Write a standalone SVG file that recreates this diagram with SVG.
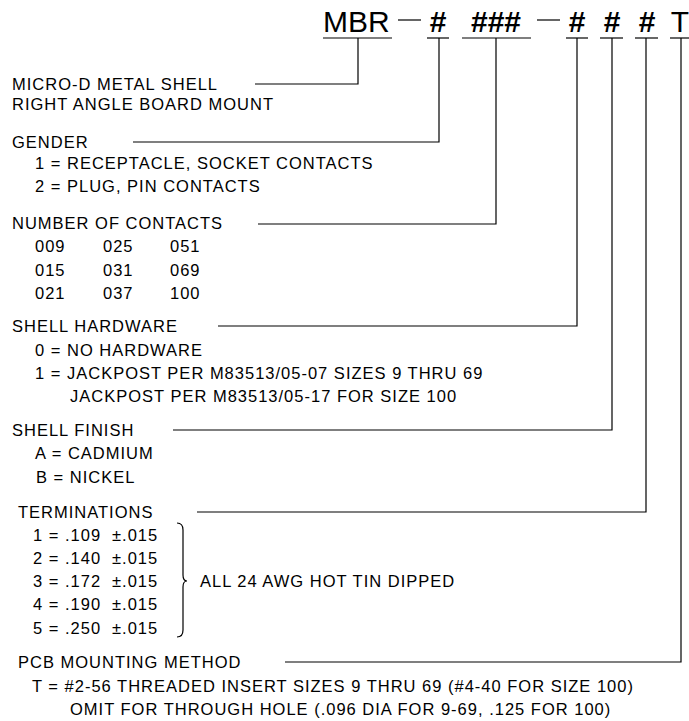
<svg xmlns="http://www.w3.org/2000/svg" width="689" height="721" viewBox="0 0 689 721">
<style>
text{font-family:"Liberation Sans",Arial,sans-serif;fill:#000}
.t{font-size:16.5px;letter-spacing:1px}
.h{font-size:30px}
.b{font-weight:bold}
.ln{stroke:#000;stroke-width:1.2;fill:none}
</style>
<rect width="689" height="721" fill="#fff"/>
<g id="header">
<text class="h" x="323" y="32">MBR</text>
<text class="h b" x="438" y="32" text-anchor="middle">#</text>
<text class="h b" x="496" y="32" text-anchor="middle">###</text>
<text class="h b" x="577" y="32" text-anchor="middle">#</text>
<text class="h b" x="612" y="32" text-anchor="middle">#</text>
<text class="h b" x="647" y="32" text-anchor="middle">#</text>
<text class="h" x="680" y="32" text-anchor="middle">T</text>
<g class="ln">
<line x1="323" y1="38" x2="392" y2="38"/>
<line x1="398" y1="20" x2="421" y2="20"/>
<line x1="427" y1="38" x2="449" y2="38"/>
<line x1="462" y1="38" x2="531" y2="38"/>
<line x1="537" y1="20" x2="560" y2="20"/>
<line x1="566" y1="38" x2="588" y2="38"/>
<line x1="600" y1="38" x2="623" y2="38"/>
<line x1="635" y1="38" x2="658" y2="38"/>
<line x1="670" y1="38" x2="689" y2="38"/>
</g>
</g>
<g id="connectors" class="ln">
<polyline points="358,38 358,84 255,84"/>
<polyline points="439,38 439,142 133,142"/>
<polyline points="496,38 496,224 258,224"/>
<polyline points="577,38 577,326 218,326"/>
<polyline points="612,38 612,430 173,430"/>
<polyline points="646,38 646,512 197,512"/>
<polyline points="681,38 681,662 285,662"/>
<path d="M177,523 Q183,523 183,530 L183,575 Q183,581 187,581 Q183,581 183,587 L183,630 Q183,637 177,637"/>
</g>
<g id="node-shell">
<text class="t" x="12" y="90">MICRO-D METAL SHELL</text>
<text class="t" x="12" y="110">RIGHT ANGLE BOARD MOUNT</text>
</g>
<g id="node-gender">
<text class="t" x="12" y="148">GENDER</text>
<text class="t" x="35" y="169">1 = RECEPTACLE, SOCKET CONTACTS</text>
<text class="t" x="35" y="192">2 = PLUG, PIN CONTACTS</text>
</g>
<g id="node-contacts">
<text class="t" x="12" y="229">NUMBER OF CONTACTS</text>
<text class="t" x="35" y="252">009</text><text class="t" x="103" y="252">025</text><text class="t" x="170" y="252">051</text>
<text class="t" x="35" y="276">015</text><text class="t" x="103" y="276">031</text><text class="t" x="170" y="276">069</text>
<text class="t" x="35" y="299">021</text><text class="t" x="103" y="299">037</text><text class="t" x="170" y="299">100</text>
</g>
<g id="node-hardware">
<text class="t" x="12" y="332">SHELL HARDWARE</text>
<text class="t" x="35" y="356">0 = NO HARDWARE</text>
<text class="t" x="35" y="379">1 = JACKPOST PER M83513/05-07 SIZES 9 THRU 69</text>
<text class="t" x="70" y="402">JACKPOST PER M83513/05-17 FOR SIZE 100</text>
</g>
<g id="node-finish">
<text class="t" x="12" y="436">SHELL FINISH</text>
<text class="t" x="35" y="459">A = CADMIUM</text>
<text class="t" x="36" y="483">B = NICKEL</text>
</g>
<g id="node-terminations">
<text class="t" x="18" y="518">TERMINATIONS</text>
<text class="t" x="33" y="541">1 = .109</text><text class="t" x="112" y="541">±.015</text>
<text class="t" x="33" y="564">2 = .140</text><text class="t" x="112" y="564">±.015</text>
<text class="t" x="33" y="587">3 = .172</text><text class="t" x="112" y="587">±.015</text>
<text class="t" x="33" y="610">4 = .190</text><text class="t" x="112" y="610">±.015</text>
<text class="t" x="33" y="634">5 = .250</text><text class="t" x="112" y="634">±.015</text>
<text class="t" x="200" y="587">ALL 24 AWG HOT TIN DIPPED</text>
</g>
<g id="node-pcb">
<text class="t" x="18" y="668">PCB MOUNTING METHOD</text>
<text class="t" x="32" y="692">T = #2-56 THREADED INSERT SIZES 9 THRU 69 (#4-40 FOR SIZE 100)</text>
<text class="t" x="70" y="715">OMIT FOR THROUGH HOLE (.096 DIA FOR 9-69, .125 FOR 100)</text>
</g>
</svg>
